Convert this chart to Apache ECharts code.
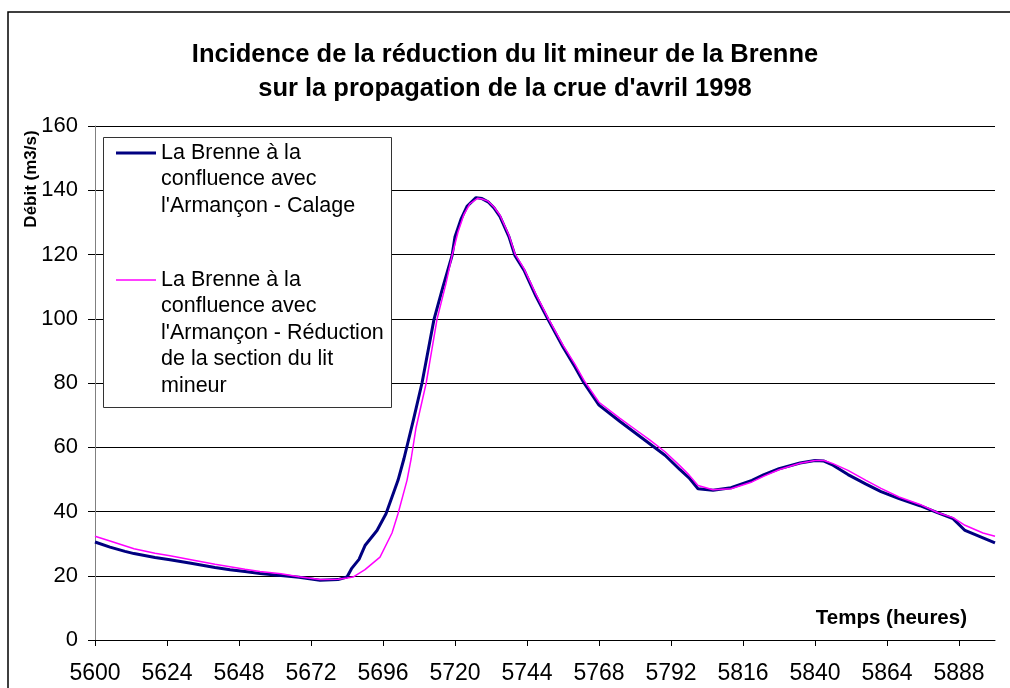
<!DOCTYPE html>
<html>
<head>
<meta charset="utf-8">
<script src="https://cdn.jsdelivr.net/npm/echarts@6/dist/echarts.min.js"></script>
<style>
html,body{margin:0;padding:0;background:#fff;}
#chart{width:1010px;height:688px;}
</style>
</head>
<body>
<div id="chart"></div>
<script>
// ---- data ----
const titleText = "Incidence de la réduction du lit mineur de la Brenne\nsur la propagation de la crue d'avril 1998";
const yAxisTitle = "Débit (m3/s)";
const xAxisTitle = "Temps (heures)";
const seriesNames = [
  "La Brenne à la confluence avec l'Armançon - Calage",
  "La Brenne à la confluence avec l'Armançon - Réduction de la section du lit mineur"
];
const legendLines = [
  ["La Brenne à la", "confluence avec", "l'Armançon - Calage"],
  ["La Brenne à la", "confluence avec", "l'Armançon - Réduction", "de la section du lit", "mineur"]
];
const xTicks = [5600,5624,5648,5672,5696,5720,5744,5768,5792,5816,5840,5864,5888];
const yTicks = [0,20,40,60,80,100,120,140,160];

const hoursCalage = [5600,5605,5610,5613,5620,5625,5632,5640,5645,5650,5655,5662,5668,5675,5681,5684,5685.5,5688,5690,5694,5697,5699,5701,5703,5706,5709,5713,5716,5719,5720,5722,5724,5727,5729,5731,5733,5735,5738,5740,5743,5747,5751,5756,5760,5763,5768,5775,5780,5785,5790,5795,5798,5801,5806,5812,5819,5823,5828,5835,5840,5843,5846,5851,5857,5862,5868,5875,5881,5886,5890,5896,5900];
const debitCalage = [30.5,28.9,27.6,26.9,25.7,25.0,23.9,22.6,21.9,21.3,20.7,20.1,19.5,18.6,18.8,19.6,22.2,25.1,29.4,34.1,39.3,44.5,49.7,56.5,68.0,80.0,99.8,110.0,119.6,125.5,131.0,135.0,137.7,137.4,136.4,134.5,131.8,125.5,119.6,115.1,107.0,99.8,91.2,85.0,80.0,73.1,68.0,64.5,61.0,57.5,53.0,50.5,47.1,46.6,47.4,49.7,51.5,53.3,55.1,55.9,55.7,54.4,51.5,48.5,46.2,44.0,41.8,39.6,37.8,34.1,31.8,30.2];

const hoursReduction = [5600,5605,5613,5620,5625,5632,5640,5650,5655,5662,5668,5675,5681,5684,5686,5690,5695,5699,5701,5704,5705.4,5707,5710.4,5714,5717,5719,5721,5723,5725,5727.5,5729,5731,5733,5735,5738,5740,5743,5747,5751,5756,5760,5763,5768,5775,5780,5785,5790,5795,5798,5801,5806,5812,5819,5823,5828,5835,5840,5843,5846,5851,5857,5862,5868,5875,5881,5886,5890,5896,5900];
const debitReduction = [32.3,30.8,28.4,27.0,26.2,25.0,23.6,22.0,21.3,20.6,19.7,18.8,18.9,19.3,19.6,21.9,25.8,33.3,39.3,49.7,56.5,66.0,80.0,99.8,111.0,119.6,127.0,132.5,135.8,137.5,137.3,136.6,134.8,132.2,126.0,120.2,115.6,107.6,100.3,91.8,85.8,80.8,74.0,69.0,65.6,62.2,58.6,54.2,51.4,48.1,46.8,47.1,49.2,51.0,53.0,55.0,55.9,55.9,54.9,52.8,49.7,47.2,44.5,42.2,39.6,38.1,35.7,33.3,32.3];

function pairs(xs, ys){ return xs.map((x,i)=>[x, ys[i]]); }
// legend text: empty lines before so that the icon sits beside the first line
function legendText(lines){ return new Array(lines.length - 1).fill('').concat(lines).join('\n'); }

const FONT = "'Liberation Sans', Arial, Helvetica, sans-serif";
const chart = echarts.init(document.getElementById('chart'), null, {renderer:'canvas'});
const LH = 26.5;

chart.setOption({
  backgroundColor: '#ffffff',
  animation: false,
  title: {
    text: titleText,
    left: 'center',
    top: 38,
    padding: 0,
    textStyle: {fontFamily: FONT, fontSize: 25.5, fontWeight: 'bold', color: '#000', lineHeight: 34}
  },
  grid: {left: 95, right: 15, top: 126, bottom: 48, containLabel: false},
  xAxis: {
    type: 'value', min: 5600, max: 5900, interval: 24,
    axisLine: {show: true, onZero: false, lineStyle: {color: '#000', width: 1}},
    axisTick: {show: true, length: 6, inside: false, customValues: xTicks, lineStyle: {color: '#000'}},
    axisLabel: {customValues: xTicks, margin: 22, fontFamily: FONT, fontSize: 23, color: '#000',
                formatter: v => String(v)},
    splitLine: {show: false}
  },
  yAxis: {
    type: 'value', min: 0, max: 160, interval: 20,
    axisLine: {show: true, lineStyle: {color: '#808080', width: 1}},
    axisTick: {show: true, length: 7, lineStyle: {color: '#000'}},
    axisLabel: {margin: 17, fontFamily: FONT, fontSize: 22, color: '#000'},
    splitLine: {show: true, lineStyle: {color: '#000', width: 1}}
  },
  legend: [
    {
      data: [seriesNames[0]], left: 116, top: 86.75, padding: 0, itemGap: 0,
      icon: 'rect', itemWidth: 40, itemHeight: 3, orient: 'vertical',
      formatter: () => legendText(legendLines[0]),
      textStyle: {fontFamily: FONT, fontSize: 21.5, color: '#000', lineHeight: LH},
      selectedMode: false
    },
    {
      data: [seriesNames[1]], left: 116, top: 160.75, padding: 0, itemGap: 0,
      icon: 'rect', itemWidth: 40, itemHeight: 1.5, orient: 'vertical',
      formatter: () => legendText(legendLines[1]),
      textStyle: {fontFamily: FONT, fontSize: 21.5, color: '#000', lineHeight: LH},
      selectedMode: false
    }
  ],
  graphic: [
    {type: 'rect', z: 100, silent: true, shape: {x: 8, y: 12, width: 1200, height: 1000},
     style: {fill: 'none', stroke: '#000', lineWidth: 1.5}},
    {type: 'rect', z: 3, silent: true, shape: {x: 103.5, y: 137.5, width: 288, height: 270},
     style: {fill: '#fff', stroke: '#333', lineWidth: 1}},
    {type: 'text', z: 5, silent: true, x: 31, y: 179, rotation: Math.PI/2,
     style: {text: yAxisTitle, fontFamily: FONT, fontSize: 17, fontWeight: 'bold', fill: '#000', align: 'center', verticalAlign: 'middle'}},
    {type: 'text', z: 5, silent: true, x: 967, y: 618,
     style: {text: xAxisTitle, fontFamily: FONT, fontSize: 20.5, fontWeight: 'bold', fill: '#000', align: 'right', verticalAlign: 'middle'}}
  ],
  series: [
    {
      name: seriesNames[0], type: 'line', data: pairs(hoursCalage, debitCalage),
      symbol: 'none', smooth: false, z: 2,
      lineStyle: {color: '#000080', width: 3}, itemStyle: {color: '#000080'}
    },
    {
      name: seriesNames[1], type: 'line', data: pairs(hoursReduction, debitReduction),
      symbol: 'none', smooth: false, z: 2,
      lineStyle: {color: '#FF00FF', width: 1.5}, itemStyle: {color: '#FF00FF'}
    }
  ]
});
</script>
</body>
</html>
